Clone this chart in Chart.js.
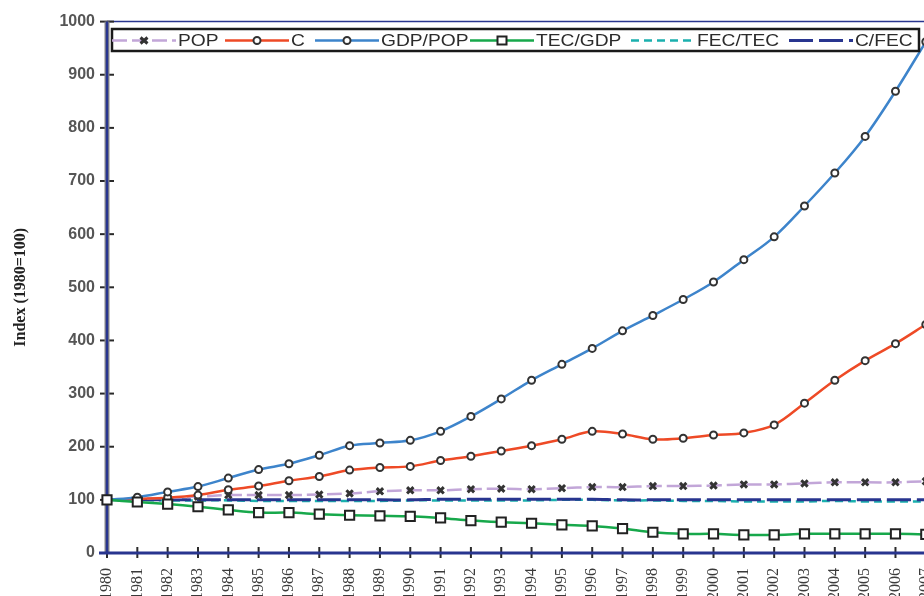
<!DOCTYPE html>
<html>
<head>
<meta charset="utf-8">
<script src="https://cdn.jsdelivr.net/npm/chart.js@4.4.0/dist/chart.umd.min.js"></script>
<style>
  html, body { margin:0; padding:0; background:#fff; overflow:hidden; }
  #wrap { position:absolute; left:0; top:0; width:960px; height:630px; }
</style>
</head>
<body>
<div id="wrap"><canvas id="indexChart" width="960" height="630"></canvas></div>
<script>
// years on the x axis (the last one is cut off by the frame)
var years = ['1980','1981','1982','1983','1984','1985','1986','1987','1988','1989','1990','1991','1992','1993',
             '1994','1995','1996','1997','1998','1999','2000','2001','2002','2003','2004','2005','2006','2007'];

// index values, 1980 = 100
var pop    = [100,102,104,106,109,109,109,110,112,116,118,118,120,121,120,122,124,124,126,126,127,129,129,131,133,133,133,135];
var c      = [100,102,104,109,119,126,136,144,156,161,163,174,182,192,202,214,229,224,214,216,222,226,241,282,325,362,394,430];
var gdpPop = [100,105,115,125,141,157,168,184,202,207,212,229,257,290,325,355,385,418,447,477,510,552,595,653,715,784,869,962];
var tecGdp = [100,96,92,87,81,76,76,73,71,70,69,66,61,58,56,53,51,46,39,36,36,34,34,36,36,36,36,35];
var fecTec = [100,100,99,99,99,98,98,98,98,98,99,99,99,99,99,100,100,99,99,98,98,97,97,97,98,97,97,97];
var cFec   = [100,100,100,100,100,100,100,100,100,100,100,101,101,101,101,101,101,100,100,100,100,100,100,100,100,100,100,100];

var yTicks = [0,100,200,300,400,500,600,700,800,900,1000];

var NAVY = '#28358f';

// axis frame + crossing tick marks
var axisLines = {
    id: 'axisLines',
    beforeDatasetsDraw: function(chart) {
        var ctx = chart.ctx, a = chart.chartArea;
        var xs = chart.scales.x, ys = chart.scales.y;
        ctx.save();
        // top border
        ctx.strokeStyle = NAVY; ctx.lineWidth = 1.5;
        ctx.beginPath(); ctx.moveTo(a.left, a.top); ctx.lineTo(a.right, a.top); ctx.stroke();
        // y ticks
        ctx.strokeStyle = '#2a2a2a'; ctx.lineWidth = 2;
        yTicks.forEach(function(v) {
            var y = ys.getPixelForValue(v);
            ctx.beginPath(); ctx.moveTo(a.left - 7, y); ctx.lineTo(a.left + 7, y); ctx.stroke();
        });
        // x ticks
        years.forEach(function(yr, i) {
            var x = xs.getPixelForValue(i);
            ctx.beginPath(); ctx.moveTo(x, a.bottom - 6); ctx.lineTo(x, a.bottom + 5); ctx.stroke();
        });
        // left axis (gray edge + navy core)
        ctx.strokeStyle = '#8a8a8a'; ctx.lineWidth = 5;
        ctx.beginPath(); ctx.moveTo(a.left, a.top); ctx.lineTo(a.left, a.bottom); ctx.stroke();
        ctx.strokeStyle = NAVY; ctx.lineWidth = 2.5;
        ctx.beginPath(); ctx.moveTo(a.left, a.top); ctx.lineTo(a.left, a.bottom); ctx.stroke();
        // bottom axis
        ctx.strokeStyle = NAVY; ctx.lineWidth = 3;
        ctx.beginPath(); ctx.moveTo(a.left - 8, a.bottom); ctx.lineTo(a.right, a.bottom); ctx.stroke();
        ctx.restore();
    }
};

// boxed legend inside the plot, drawn from the dataset styles
var boxLegend = {
    id: 'boxLegend',
    afterDraw: function(chart) {
        var ctx = chart.ctx;
        var starts = [112, 225, 315, 470, 631, 789];
        var y = 40.5;
        ctx.save();
        ctx.fillStyle = '#fff';
        ctx.fillRect(112, 29, 807, 22);
        ctx.strokeStyle = '#1a1a1a'; ctx.lineWidth = 2.5;
        ctx.strokeRect(112, 29, 807, 22);
        chart.data.datasets.forEach(function(ds, i) {
            var x0 = starts[i];
            ctx.strokeStyle = ds.borderColor;
            ctx.lineWidth = ds.borderWidth;
            ctx.setLineDash(ds.borderDash || []);
            ctx.beginPath(); ctx.moveTo(x0, y); ctx.lineTo(x0 + 64, y); ctx.stroke();
            ctx.setLineDash([]);
            var mx = x0 + 32;
            if (ds.pointRadius > 0) {
                ctx.lineWidth = ds.pointBorderWidth;
                ctx.strokeStyle = ds.pointBorderColor;
                ctx.fillStyle = '#fff';
                ctx.beginPath();
                if (ds.pointStyle === 'circle') {
                    ctx.arc(mx, y, ds.pointRadius, 0, Math.PI * 2);
                    ctx.fill(); ctx.stroke();
                } else if (ds.pointStyle === 'rect') {
                    ctx.rect(mx - 4.5, y - 4, 9, 8);
                    ctx.fill(); ctx.stroke();
                } else {
                    ctx.moveTo(mx - 3.5, y - 3); ctx.lineTo(mx + 3.5, y + 3);
                    ctx.moveTo(mx + 3.5, y - 3); ctx.lineTo(mx - 3.5, y + 3);
                    ctx.stroke();
                }
            }
            ctx.save();
            ctx.translate(x0 + 66, y);
            ctx.scale(1.2, 1);
            ctx.fillStyle = '#2b2b2b';
            ctx.font = '16px "Liberation Sans", Arial, sans-serif';
            ctx.textBaseline = 'middle';
            ctx.fillText(ds.label, 0, 1);
            ctx.restore();
        });
        ctx.restore();
    }
};

var ctx = document.getElementById('indexChart').getContext('2d');
var myIndexChart = new Chart(ctx, {
    type: 'line',
    data: {
        labels: years,
        datasets: [
            { label: 'POP', data: pop, borderColor: '#c2a6d8', borderWidth: 2.5, borderDash: [15, 5],
              pointStyle: 'crossRot', pointRadius: 4.5, pointBorderWidth: 3, pointBorderColor: '#333',
              pointBackgroundColor: '#333', tension: 0.35, clip: false, order: 3 },
            { label: 'C', data: c, borderColor: '#ee4a26', borderWidth: 2.5,
              pointStyle: 'circle', pointRadius: 3.5, pointBorderWidth: 2, pointBorderColor: '#333',
              pointBackgroundColor: '#fff', tension: 0.35, clip: false, order: 2 },
            { label: 'GDP/POP', data: gdpPop, borderColor: '#3d84cb', borderWidth: 2.5,
              pointStyle: 'circle', pointRadius: 3.5, pointBorderWidth: 2, pointBorderColor: '#333',
              pointBackgroundColor: '#fff', tension: 0.35, clip: false, order: 1 },
            { label: 'TEC/GDP', data: tecGdp, borderColor: '#17a84b', borderWidth: 2.5,
              pointStyle: 'rect', pointRadius: 6.5, pointBorderWidth: 2, pointBorderColor: '#222',
              pointBackgroundColor: '#fff', tension: 0.35, clip: false, order: 0 },
            { label: 'FEC/TEC', data: fecTec, borderColor: '#1bb0ae', borderWidth: 2.5, borderDash: [8, 5],
              pointRadius: 0, tension: 0.35, clip: false, order: 5 },
            { label: 'C/FEC', data: cFec, borderColor: NAVY, borderWidth: 3, borderDash: [24, 6],
              pointRadius: 0, tension: 0.35, clip: false, order: 4 }
        ]
    },
    options: {
        responsive: false,
        animation: false,
        layout: { padding: { left: 0, top: 15, right: 30, bottom: 0 } },
        plugins: { legend: { display: false }, tooltip: { enabled: false } },
        scales: {
            x: {
                offset: false,
                grid: { display: false, drawTicks: false },
                border: { display: false },
                ticks: { autoSkip: false, maxRotation: 90, minRotation: 90, padding: 15,
                         color: '#3a3a3a', font: { family: '"Liberation Serif", "Times New Roman", serif', size: 16 } },
                afterFit: function(scale) { scale.height = 77; }
            },
            y: {
                min: 0, max: 1000,
                grid: { display: false, drawTicks: false },
                border: { display: false },
                ticks: { stepSize: 100, padding: 12, color: '#555',
                         callback: function(v) { return String(v); },
                         font: { family: '"Liberation Sans", Arial, sans-serif', size: 16, weight: 'bold' } },
                title: { display: true, text: 'Index (1980=100)', color: '#222', padding: { top: 11, bottom: 0 },
                         font: { family: '"Liberation Serif", "Times New Roman", serif', size: 16, weight: 'bold' } },
                afterFit: function(scale) { scale.width = 107; }
            }
        }
    },
    plugins: [axisLines, boxLegend]
});
</script>
</body>
</html>
